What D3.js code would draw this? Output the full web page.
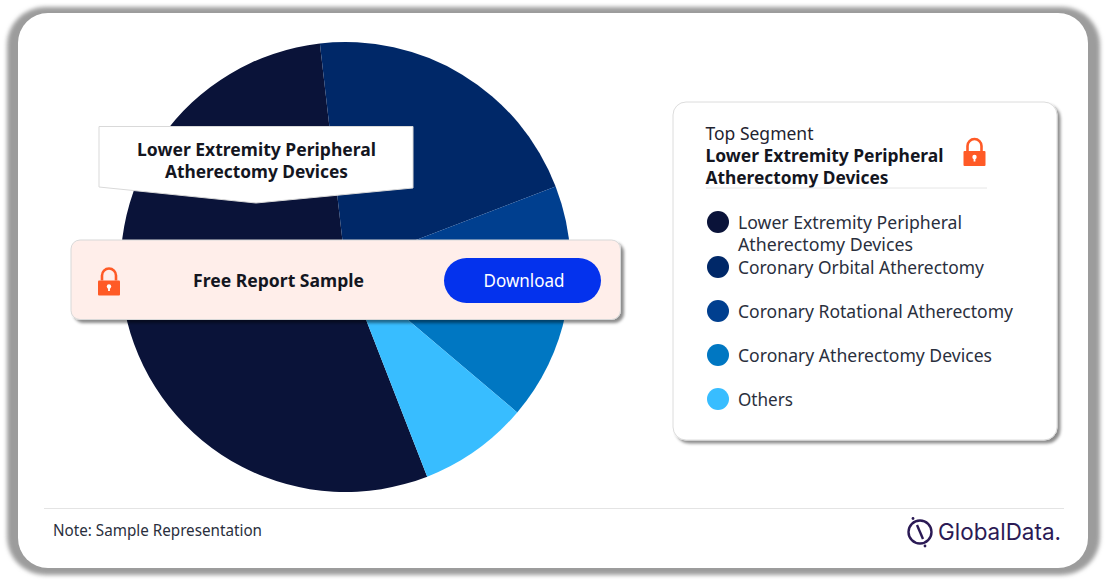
<!DOCTYPE html>
<html>
<head>
<meta charset="utf-8">
<script src="https://cdn.jsdelivr.net/npm/d3@7"></script>
<style>
html,body{margin:0;padding:0;background:#fff}
svg{display:block}
text{font-family:"Noto Sans",sans-serif}
</style>
</head>
<body>
<svg id="c" width="1106" height="580"></svg>
<script>
const categories = ["Lower Extremity Peripheral Atherectomy Devices","Coronary Orbital Atherectomy","Coronary Rotational Atherectomy","Coronary Atherectomy Devices","Others"];
const values = [54.1, 21, 9, 8, 7.9];
const colors = ["#0a1339","#002868","#003f8f","#0077c2","#38bdff"];
const legendLines = [["Lower Extremity Peripheral","Atherectomy Devices"],["Coronary Orbital Atherectomy"],["Coronary Rotational Atherectomy"],["Coronary Atherectomy Devices"],["Others"]];
const legendWidths = [[224,175],[246],[275],[254],[55]];
const legendY = [222,267,311,355,399];
const ink = "#1f2330";

const svg = d3.select("#c");
const defs = svg.append("defs");
defs.append("filter").attr("id","blur").attr("x","-5%").attr("y","-5%").attr("width","110%").attr("height","110%")
  .append("feGaussianBlur").attr("stdDeviation",2.2);
const sh = defs.append("filter").attr("id","shadow").attr("x","-5%").attr("y","-10%").attr("width","110%").attr("height","125%");
sh.append("feDropShadow").attr("dx",3).attr("dy",3).attr("stdDeviation",1.5).attr("flood-color","#000").attr("flood-opacity",0.45);

// frame
svg.append("rect").attr("x",7).attr("y",7).attr("width",1093).attr("height",568).attr("rx",38).attr("fill","#9c9c9c").attr("filter","url(#blur)");
svg.append("rect").attr("x",18).attr("y",13).attr("width",1070).attr("height",555).attr("rx",30).attr("fill","#fff");

// pie
const cx=345.5, cy=267, R=225;
const start = 158.7*Math.PI/180;
const pie = d3.pie().sort(null).value(d=>d).startAngle(start).endAngle(start+2*Math.PI);
const arc = d3.arc().innerRadius(0).outerRadius(R);
svg.append("g").attr("transform",`translate(${cx},${cy})`)
  .selectAll("path").data(pie(values)).join("path")
  .attr("d",arc).attr("fill",(d,i)=>colors[i]);

function lock(x,y,s){
  const g=svg.append("g").attr("transform",`translate(${x},${y}) scale(${s})`);
  g.append("path").attr("d","M-7-2V-7A7 7 0 0 1 7-7V-2").attr("fill","none").attr("stroke","#ff5a26").attr("stroke-width",2.6);
  g.append("rect").attr("x",-11).attr("y",-2).attr("width",22).attr("height",15).attr("rx",1).attr("fill","#ff5a26");
  g.append("circle").attr("cy",4).attr("r",2.2).attr("fill","#fff");
  g.append("rect").attr("x",-0.9).attr("y",4).attr("width",1.8).attr("height",4.5).attr("fill","#fff");
}
function txt(x,y,s,size,w,opt={}){
  const t=svg.append("text").attr("x",x).attr("y",y).attr("font-size",size).attr("fill",opt.fill||ink).text(s);
  if(opt.bold) t.attr("font-weight",700);
  if(opt.anchor) t.attr("text-anchor",opt.anchor);
  if(w) t.attr("textLength",w).attr("lengthAdjust","spacingAndGlyphs");
  return t;
}

// callout
svg.append("polygon").attr("points","99,126.5 413,126.5 413,188 256,203 99,187").attr("fill","#fff").attr("stroke","#d9d9d9").attr("stroke-width",1);
txt(256.5,156,"Lower Extremity Peripheral",17.5,239,{bold:true,anchor:"middle",fill:"#14161f"});
txt(256.5,178,"Atherectomy Devices",17.5,183,{bold:true,anchor:"middle",fill:"#14161f"});

// banner
svg.append("rect").attr("x",71).attr("y",240).attr("width",549.5).attr("height",79.5).attr("rx",9).attr("fill","#ffeeea").attr("stroke","#d8d8d8").attr("filter","url(#shadow)");
lock(109,282.5,1);
txt(278.5,287,"Free Report Sample",17.5,171,{bold:true,anchor:"middle",fill:"#14161f"});
svg.append("rect").attr("x",444).attr("y",258).attr("width",157).attr("height",45).attr("rx",22.5).attr("fill","#0432ed");
txt(524,287,"Download",18,81,{anchor:"middle",fill:"#fff"});

// legend card
svg.append("rect").attr("x",673).attr("y",102).attr("width",384).attr("height",338).attr("rx",13).attr("fill","#fff").attr("stroke","#dcdcdc").attr("filter","url(#shadow)");
txt(705.5,140,"Top Segment",18,108);
txt(705.5,162,"Lower Extremity Peripheral",17.5,238,{bold:true,fill:"#14161f"});
txt(705.5,184,"Atherectomy Devices",17.5,183,{bold:true,fill:"#14161f"});
svg.append("line").attr("x1",706).attr("x2",987).attr("y1",188).attr("y2",188).attr("stroke","#e6e6e6");
lock(974.5,153,1);

const lg = svg.append("g").selectAll("g").data(categories).join("g");
lg.append("circle").attr("cx",718).attr("cy",(d,i)=>legendY[i]).attr("r",11).attr("fill",(d,i)=>colors[i]);
categories.forEach((c,i)=>{
  legendLines[i].forEach((l,j)=>txt(738,legendY[i]+6.5+j*22,l,18,legendWidths[i][j],{fill:"#2a2f3d"}));
});

// footer
svg.append("line").attr("x1",44).attr("x2",1064).attr("y1",508.5).attr("y2",508.5).attr("stroke","#e4e4e4");
txt(53,536,"Note: Sample Representation",15.5,209,{fill:"#2a2f3d"});

// logo
const logo = svg.append("g").attr("fill","none").attr("stroke","#2b1a55");
logo.append("circle").attr("cx",920).attr("cy",532).attr("r",11.5).attr("stroke-width",2.4);
logo.append("path").attr("d","M917 525 L923 539").attr("stroke-width",2.4);
logo.append("circle").attr("cx",913).attr("cy",518.5).attr("r",1.4).attr("fill","#2b1a55").attr("stroke","none");
logo.append("circle").attr("cx",925).attr("cy",546).attr("r",1.4).attr("fill","#2b1a55").attr("stroke","none");
txt(938,540,"GlobalData.",23,123,{fill:"#2b1a55"}).style("font-family","Inter,sans-serif").attr("font-weight",400);
</script>
</body>
</html>
